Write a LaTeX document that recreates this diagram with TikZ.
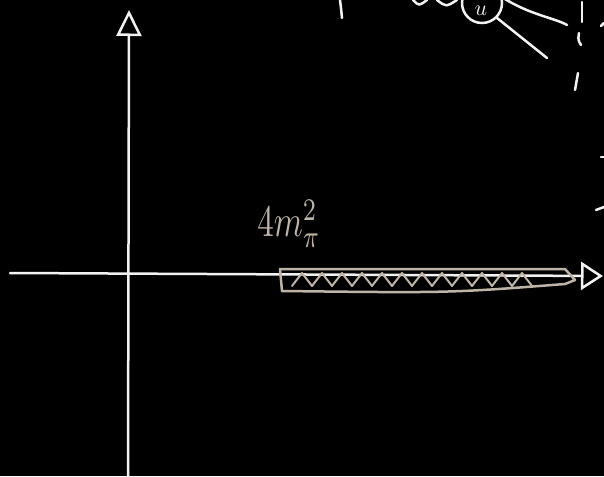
\documentclass[tikz,border=0pt]{standalone}
\usepackage{amsmath}
\usepackage{graphicx}
\usetikzlibrary{arrows.meta}
\definecolor{chalk}{RGB}{242,242,242}
\definecolor{sand}{RGB}{190,180,165}

\begin{document}
\begin{tikzpicture}[x=1pt, y=-1pt,
  axis/.style={draw=chalk, line width=2.5pt, line cap=round},
  tipx/.style={-{Triangle[open, length=22pt, width=28pt, line width=2.5pt]}},
  tipy/.style={-{Triangle[open, length=26pt, width=25pt, line width=2.5pt]}},
  band/.style={draw=sand, line width=2.5pt, line join=round, line cap=round},
  sketch/.style={draw=chalk, line width=2.5pt, line cap=round},
  lbl/.style={text=sand, inner sep=0pt}
]
\fill[black] (0,0) rectangle (604,476);
\useasboundingbox (0,0) rectangle (604,476);

% axes
\coordinate (xl) at (10,273);
\coordinate (xr) at (603,276);
\coordinate (yb) at (128,476);
\coordinate (yt) at (129,10);
\draw[axis, tipx] (xl) -- (xr);
\draw[axis, tipy] (yb) -- (yt);

% threshold band
\draw[band] (280,269) -- (565,269) -- (575,280) -- (565,284)
  .. controls (450,293) .. (282,291) -- cycle;
\draw[band, line width=2pt] (292,286) \foreach \i in {1,...,12} { -- ++(10,-13) -- ++(10,13) };
\node[lbl] (mass) at (289,224) {\scalebox{3.3}[4.5]{$4m_\pi^2$}};

% sketch at top right
\node[draw=chalk, circle, line width=2.5pt, minimum size=40pt, inner sep=0pt] (vert) at (482,3) {};
\node[text=chalk, inner sep=0pt] (quark) at (481,11) {\scalebox{2.2}{$u$}};
\draw[sketch] (340,0) .. controls (341,8) .. (342,18);
\draw[sketch] (413,0) .. controls (419,6) .. (427,0);
\draw[sketch] (437,0) .. controls (446,7) .. (457,0);
\draw[sketch] (vert.15) .. controls (530,15) and (555,18) .. (567,25);
\draw[sketch] (vert.-45) -- (547,58);
\draw[sketch] (582,2) -- (582,22);
\draw[sketch] (579,33) .. controls (578,40) .. (581,45);
\draw[sketch] (578,73) -- (575,90);
\draw[sketch] (601,26) -- (604,23);
\draw[sketch] (601,157) -- (604,157);
\draw[sketch] (596,210) -- (604,207);
\end{tikzpicture}
\end{document}
